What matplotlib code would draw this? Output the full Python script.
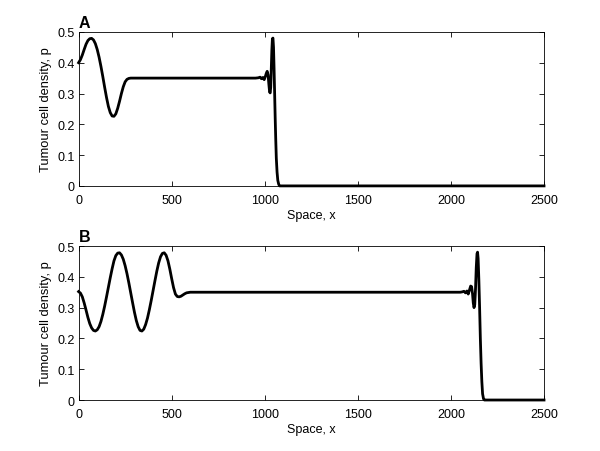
import matplotlib

matplotlib.use("Agg")
import matplotlib.pyplot as plt

# Panel A: tumour cell density profile, front near x ~ 1050
A_X = [0, 10, 20, 30, 40, 50, 60, 70, 80, 90, 100, 110, 120, 130, 140, 150,
       160, 170, 180, 190, 200, 210, 220, 230, 240, 250, 260, 270, 280, 300,
       950, 965, 975, 982, 990, 997, 1003, 1008, 1013, 1018, 1022, 1026, 1029,
       1032, 1035, 1038, 1041, 1044, 1047, 1050, 1053, 1056, 1059, 1062, 1066,
       1070, 1075, 1080, 2500]
A_P = [0.400, 0.410, 0.425, 0.443, 0.460, 0.472, 0.478, 0.479, 0.474, 0.462,
       0.443, 0.418, 0.388, 0.355, 0.320, 0.287, 0.258, 0.238, 0.227, 0.226,
       0.234, 0.252, 0.275, 0.300, 0.322, 0.338, 0.346, 0.349, 0.350, 0.350,
       0.350, 0.351, 0.353, 0.348, 0.352, 0.345, 0.355, 0.365, 0.372, 0.360,
       0.330, 0.305, 0.302, 0.320, 0.380, 0.440, 0.478, 0.480, 0.450, 0.380,
       0.300, 0.220, 0.150, 0.090, 0.045, 0.018, 0.005, 0.000, 0.000]

# Panel B: later time, front near x ~ 2150
B_X = [0, 10, 20, 30, 40, 50, 60, 70, 80, 90, 100, 110, 120, 130, 140, 150,
       160, 170, 180, 190, 200, 210, 220, 230, 240, 250, 260, 270, 280, 290,
       300, 310, 320, 330, 340, 350, 360, 370, 380, 390, 400, 410, 420, 430,
       440, 450, 460, 470, 480, 490, 500, 510, 520, 530, 540, 550, 560, 570,
       580, 600, 2050, 2060, 2070, 2078, 2086, 2093, 2100, 2106, 2111, 2116,
       2120, 2124, 2128, 2132, 2136, 2140, 2143, 2146, 2150, 2154, 2158, 2162,
       2166, 2170, 2175, 2180, 2500]
B_P = [0.352, 0.347, 0.335, 0.315, 0.292, 0.268, 0.248, 0.234, 0.226, 0.224,
       0.228, 0.238, 0.255, 0.278, 0.305, 0.335, 0.366, 0.397, 0.426, 0.452,
       0.469, 0.477, 0.478, 0.471, 0.457, 0.436, 0.410, 0.380, 0.348, 0.316,
       0.285, 0.258, 0.238, 0.226, 0.224, 0.230, 0.245, 0.266, 0.293, 0.323,
       0.355, 0.387, 0.418, 0.445, 0.465, 0.476, 0.478, 0.470, 0.452, 0.425,
       0.394, 0.365, 0.344, 0.336, 0.335, 0.337, 0.341, 0.345, 0.348, 0.350,
       0.350, 0.351, 0.353, 0.348, 0.354, 0.344, 0.358, 0.370, 0.368, 0.345,
       0.315, 0.300, 0.310, 0.360, 0.430, 0.475, 0.480, 0.460, 0.390, 0.300,
       0.200, 0.120, 0.060, 0.020, 0.004, 0.000, 0.000]

X_TICKS = [0, 500, 1000, 1500, 2000, 2500]
Y_TICKS = [0, 0.1, 0.2, 0.3, 0.4, 0.5]
Y_TICK_LABELS = ["0", "0.1", "0.2", "0.3", "0.4", "0.5"]

plt.rcParams["font.family"] = ["Liberation Sans", "DejaVu Sans"]


def style_axes(ax):
    ax.set_xlim(0, 2500)
    ax.set_ylim(0, 0.5)
    ax.set_xticks(X_TICKS)
    ax.set_xticklabels([str(t) for t in X_TICKS])
    ax.set_yticks(Y_TICKS)
    ax.set_yticklabels(Y_TICK_LABELS)
    ax.tick_params(direction="in", length=3.5, width=0.6, top=True, right=True,
                   labelsize=9)
    ax.tick_params(axis="x", pad=5.5)
    ax.tick_params(axis="y", pad=3)
    for spine in ax.spines.values():
        spine.set_linewidth(0.6)
    ax.set_xlabel("Space, x", fontsize=9, labelpad=2.5)
    ax.set_ylabel("Tumour cell density, p", fontsize=9.3, labelpad=4)


fig = plt.figure(figsize=(6.0, 4.52), dpi=100, facecolor="white")
ax_a = fig.add_axes([0.131, 0.5865, 0.7757, 0.3407])
ax_b = fig.add_axes([0.131, 0.1128, 0.7757, 0.3407])

for ax, xs, ps, tag in ((ax_a, A_X, A_P, "A"), (ax_b, B_X, B_P, "B")):
    ax.plot(xs, ps, color="black", linewidth=2.0, solid_joinstyle="round",
            clip_on=False)
    style_axes(ax)
    ax.text(0.0, 1.015, tag, transform=ax.transAxes, fontsize=11.5,
            fontweight="bold", ha="left", va="bottom")

fig.savefig("out.png", dpi=100, facecolor="white")
